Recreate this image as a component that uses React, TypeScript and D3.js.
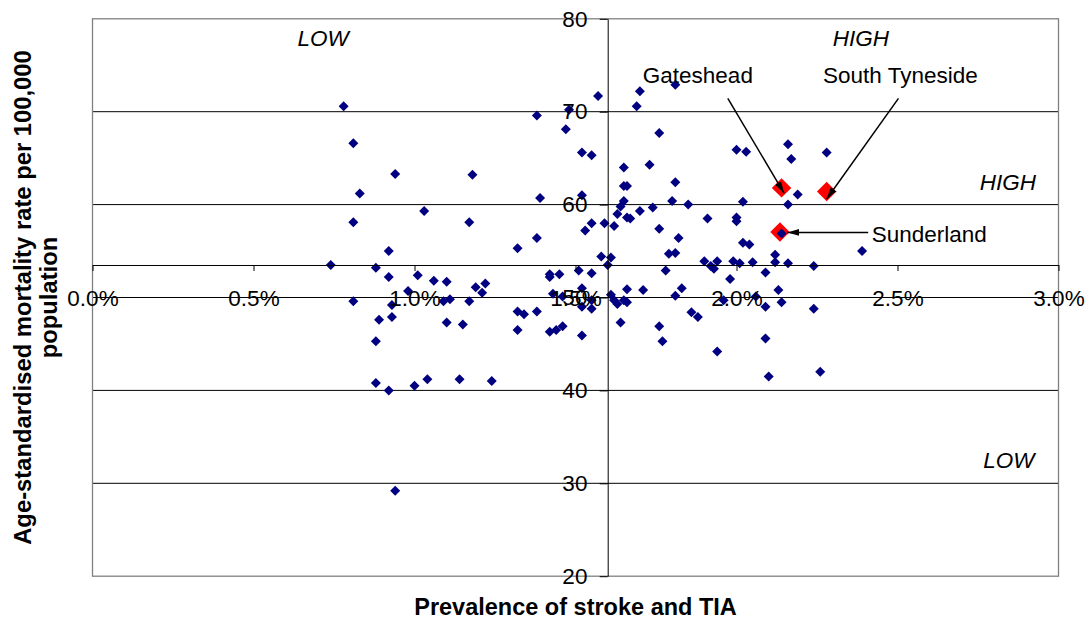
import React, { useEffect, useRef } from 'react';
import * as d3 from 'd3';

// prevalence of stroke and TIA (%) for each PCT
const prevalence = [
  0.78, 0.81, 0.94, 1.18, 0.83, 1.03, 0.81, 1.17, 0.92, 0.74,
  0.88, 0.92, 1.01, 1.06, 1.10, 1.19, 1.22, 1.21, 0.81, 0.98,
  0.93, 1.09, 1.11, 1.17, 0.89, 0.93, 1.10, 1.15, 0.88, 0.88,
  0.92, 1.00, 1.04, 1.14, 1.24, 0.94, 1.38, 1.48, 1.47, 1.52,
  1.55, 1.39, 1.52, 1.55, 1.59, 1.53, 1.38, 1.32, 1.58, 1.42,
  1.42, 1.45, 1.51, 1.55, 1.57, 1.43, 1.46, 1.52, 1.55, 1.52,
  1.55, 1.32, 1.34, 1.38, 1.32, 1.42, 1.44, 1.46, 1.52, 1.61,
  1.60, 1.62, 1.63, 1.66, 1.67, 1.70, 1.64, 1.65, 1.65, 1.66,
  1.65, 1.73, 1.76, 1.69, 1.70, 1.81, 1.81, 1.80, 1.74, 1.76,
  1.82, 1.79, 1.81, 1.78, 1.61, 1.62, 1.63, 1.65, 1.66, 1.66,
  1.71, 1.81, 1.83, 1.64, 1.76, 1.77, 2.00, 2.03, 2.16, 2.17,
  2.28, 2.19, 1.85, 2.02, 2.16, 1.91, 2.00, 2.00, 2.14, 2.02,
  2.04, 2.39, 1.90, 1.92, 1.93, 1.94, 1.99, 2.01, 2.05, 2.12,
  2.12, 2.16, 2.24, 2.09, 1.98, 1.96, 1.86, 1.88, 2.09, 2.13,
  2.14, 2.24, 1.94, 2.09, 2.10, 2.26, 2.06,
];

// age-standardised mortality rate per 100,000
const mortality = [
  70.6, 66.6, 63.3, 63.2, 61.2, 59.3, 58.1, 58.1, 55.0, 53.5,
  53.2, 52.2, 52.4, 51.8, 51.7, 51.1, 51.5, 50.5, 49.6, 50.7,
  49.2, 49.6, 49.8, 49.6, 47.6, 47.9, 47.3, 47.1, 45.3, 40.8,
  40.0, 40.5, 41.2, 41.2, 41.0, 29.2, 69.6, 70.2, 68.1, 65.6,
  65.3, 60.7, 61.0, 58.0, 58.0, 57.2, 56.4, 55.3, 54.4, 52.5,
  52.2, 52.5, 52.9, 52.6, 71.7, 50.4, 50.1, 51.0, 49.7, 49.0,
  48.8, 48.5, 48.2, 48.5, 46.5, 46.3, 46.5, 46.9, 45.9, 54.3,
  53.5, 57.7, 59.0, 58.6, 58.5, 59.3, 59.8, 60.4, 62.0, 62.0,
  64.0, 64.3, 67.7, 70.6, 72.2, 72.9, 62.4, 60.4, 59.7, 57.4,
  56.4, 54.7, 54.8, 52.9, 50.3, 49.7, 49.3, 49.7, 49.5, 50.9,
  50.8, 50.2, 51.0, 47.3, 46.9, 45.3, 65.9, 65.7, 66.5, 64.9,
  65.6, 61.1, 60.0, 60.3, 60.0, 58.5, 58.2, 58.6, 56.9, 55.9,
  55.7, 55.0, 53.9, 53.4, 53.1, 53.9, 53.9, 53.7, 53.8, 54.6,
  53.8, 53.7, 53.4, 52.7, 52.0, 49.7, 48.4, 47.9, 49.0, 50.8,
  49.5, 48.8, 44.2, 45.6, 41.5, 42.0, 50.1,
];

// highlighted areas
const highlightNames = ['Gateshead', 'South Tyneside', 'Sunderland'];
const highlightPrevalence = [2.14, 2.28, 2.135];
const highlightMortality = [61.8, 61.4, 57.05];

// label positions (data units) and arrow start / end
const labelX = [1.88, 2.509, 2.42];
const labelY = [73.06, 73.06, 56.0];
const labelAnchor = ['middle', 'middle', 'start'];
const arrowFromX = [1.973, 2.503, 2.409];
const arrowFromY = [71.44, 71.44, 57.0];
const arrowToX = [2.148, 2.28, 2.158];
const arrowToY = [61.21, 60.6, 57.0];

// quadrant labels
const quadrantText = ['LOW', 'HIGH', 'HIGH', 'LOW'];
const quadrantX = [0.716, 2.386, 2.843, 2.846];
const quadrantY = [77.07, 77.07, 61.57, 31.62];

const xTicks = [0, 0.5, 1.0, 1.5, 2.0, 2.5, 3.0];
const yTicks = [20, 30, 40, 50, 60, 70, 80];
const xCross = 1.6; // y axis crosses x here
const yCross = 53.5; // x axis crosses y here

const FONT = '"Liberation Sans", Arial, Helvetica, sans-serif';

const App: React.FC = () => {
  const svgRef = useRef<SVGSVGElement>(null);

  useEffect(() => {
    if (!svgRef.current) return;
    const svg = d3.select(svgRef.current);
    svg.selectAll('*').remove();

    const width = 1087;
    const height = 619;
    svg.attr('width', width).attr('height', height);

    const x = d3.scaleLinear().domain([0, 3]).range([92.5, 1058.5]);
    const y = d3.scaleLinear().domain([20, 80]).range([576.2, 18.8]);

    svg.append('rect').attr('width', width).attr('height', height).attr('fill', '#fff');

    // gridlines
    svg.append('g')
      .selectAll('line')
      .data(yTicks.filter((t) => t !== 20 && t !== 80))
      .join('line')
      .attr('x1', x(0))
      .attr('x2', x(3))
      .attr('y1', (d) => y(d))
      .attr('y2', (d) => y(d))
      .attr('stroke', '#000')
      .attr('stroke-width', 1);

    // plot border
    svg.append('rect')
      .attr('x', x(0))
      .attr('y', y(80))
      .attr('width', x(3) - x(0))
      .attr('height', y(20) - y(80))
      .attr('fill', 'none')
      .attr('stroke', '#808080')
      .attr('stroke-width', 1.3);

    // highlighted points (drawn under the main series)
    const bigDiamond = d3.symbol().type(d3.symbolSquare).size(190);
    svg.append('g')
      .selectAll('path')
      .data(highlightNames.map((n, i) => ({ n, px: highlightPrevalence[i], m: highlightMortality[i] })))
      .join('path')
      .attr('d', bigDiamond)
      .attr('transform', (d) => `translate(${x(d.px)},${y(d.m)}) rotate(45)`)
      .attr('fill', '#ff0000');

    // main series
    const diamond = d3.symbol().type(d3.symbolSquare).size(50);
    svg.append('g')
      .selectAll('path')
      .data(prevalence.map((p, i) => ({ p, m: mortality[i] })))
      .join('path')
      .attr('d', diamond)
      .attr('transform', (d) => `translate(${x(d.p)},${y(d.m)}) rotate(45)`)
      .attr('fill', '#000080');

    // x axis
    const xAxis = svg.append('g')
      .attr('transform', `translate(0,${y(yCross)})`)
      .call(
        d3.axisBottom(x)
          .tickValues(xTicks)
          .tickFormat((d) => (d as number).toFixed(1) + '%')
          .tickSize(6)
          .tickSizeOuter(0)
          .tickPadding(19.5)
      );
    xAxis.select('.domain').attr('stroke', '#000');
    xAxis.selectAll('.tick line').attr('stroke', '#000');
    xAxis.selectAll('text')
      .attr('font-family', FONT)
      .attr('font-size', 22.5)
      .attr('fill', '#000');

    // y axis
    const yAxis = svg.append('g')
      .attr('transform', `translate(${x(xCross)},0)`)
      .call(
        d3.axisLeft(y)
          .tickValues(yTicks)
          .tickFormat((d) => String(d))
          .tickSize(8)
          .tickSizeOuter(0)
          .tickPadding(12.3)
      );
    yAxis.select('.domain').attr('stroke', '#000');
    yAxis.selectAll('.tick line').attr('stroke', '#000');
    yAxis.selectAll('text')
      .attr('font-family', FONT)
      .attr('font-size', 22.5)
      .attr('fill', '#000');

    // quadrant labels
    svg.append('g')
      .selectAll('text')
      .data(quadrantText.map((t, i) => ({ t, qx: quadrantX[i], qy: quadrantY[i] })))
      .join('text')
      .attr('x', (d) => x(d.qx))
      .attr('y', (d) => y(d.qy))
      .attr('text-anchor', 'middle')
      .attr('font-family', FONT)
      .attr('font-size', 22.5)
      .attr('font-style', 'italic')
      .text((d) => d.t);

    // arrows
    const defs = svg.append('defs');
    defs.append('marker')
      .attr('id', 'arrowhead')
      .attr('viewBox', '0 -5 12 10')
      .attr('refX', 12)
      .attr('refY', 0)
      .attr('markerUnits', 'userSpaceOnUse')
      .attr('markerWidth', 12)
      .attr('markerHeight', 10)
      .attr('orient', 'auto')
      .append('path')
      .attr('d', 'M0,-3.5L12,0L0,3.5Z')
      .attr('fill', '#000');

    svg.append('g')
      .selectAll('line')
      .data(highlightNames.map((n, i) => i))
      .join('line')
      .attr('x1', (i) => x(arrowFromX[i]))
      .attr('y1', (i) => y(arrowFromY[i]))
      .attr('x2', (i) => x(arrowToX[i]))
      .attr('y2', (i) => y(arrowToY[i]))
      .attr('stroke', '#000')
      .attr('stroke-width', 1.5)
      .attr('marker-end', 'url(#arrowhead)');

    svg.append('g')
      .selectAll('text')
      .data(highlightNames.map((n, i) => ({ n, i })))
      .join('text')
      .attr('x', (d) => x(labelX[d.i]))
      .attr('y', (d) => y(labelY[d.i]))
      .attr('text-anchor', (d) => labelAnchor[d.i])
      .attr('font-family', FONT)
      .attr('font-size', 22.5)
      .text((d) => d.n);

    // axis titles
    svg.append('text')
      .attr('x', (x(0) + x(3)) / 2)
      .attr('y', 615)
      .attr('text-anchor', 'middle')
      .attr('font-family', FONT)
      .attr('font-size', 23.5)
      .attr('font-weight', 'bold')
      .text('Prevalence of stroke and TIA');

    const yTitle = svg.append('text')
      .attr('transform', `translate(31,${(y(20) + y(80)) / 2}) rotate(-90)`)
      .attr('text-anchor', 'middle')
      .attr('font-family', FONT)
      .attr('font-size', 23.8)
      .attr('font-weight', 'bold');
    yTitle.append('tspan').attr('x', 0).attr('dy', 0).text('Age-standardised mortality rate per 100,000');
    yTitle.append('tspan').attr('x', 0).attr('dy', 26).text('population');
  }, []);

  return (
    <svg
      ref={svgRef}
      style={{ position: 'absolute', left: 0, top: 0, display: 'block' }}
    />
  );
};

export default App;
